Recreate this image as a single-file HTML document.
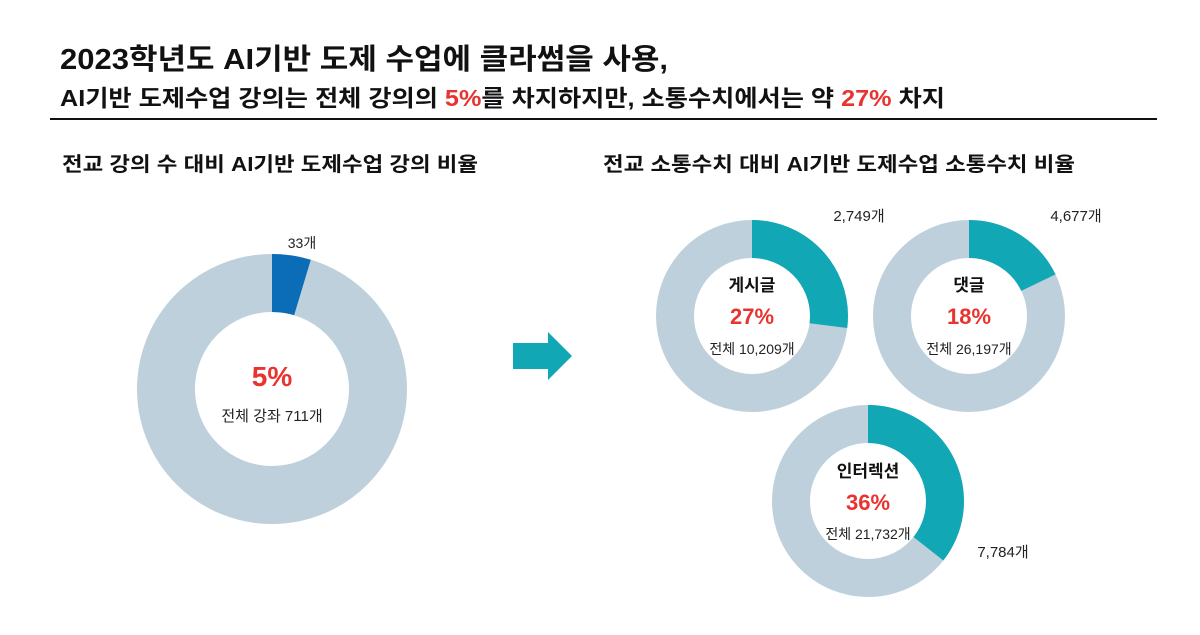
<!DOCTYPE html>
<html><head><meta charset="utf-8"><style>
body{margin:0;background:#fff;}
svg text{font-family:"Liberation Sans","Noto Sans CJK KR",sans-serif;}
</style></head><body>
<svg width="1200" height="630" viewBox="0 0 1200 630" xmlns="http://www.w3.org/2000/svg">
<rect width="1200" height="630" fill="#fff"/>
<text x="60" y="69" font-size="29" font-weight="bold" fill="#111" textLength="608" lengthAdjust="spacingAndGlyphs">2023학년도 AI기반 도제 수업에 클라썸을 사용,</text>
<text x="60" y="106" font-size="23" font-weight="bold" fill="#111" textLength="885" lengthAdjust="spacingAndGlyphs">AI기반 도제수업 강의는 전체 강의의 <tspan fill="#e8332f">5%</tspan>를 차지하지만, 소통수치에서는 약 <tspan fill="#e8332f">27%</tspan> 차지</text>
<rect x="50" y="118" width="1107" height="2" fill="#111"/>
<text x="62" y="171" font-size="20" font-weight="bold" fill="#111" textLength="416" lengthAdjust="spacingAndGlyphs">전교 강의 수 대비 AI기반 도제수업 강의 비율</text>
<text x="603" y="171" font-size="20" font-weight="bold" fill="#111" textLength="472" lengthAdjust="spacingAndGlyphs">전교 소통수치 대비 AI기반 도제수업 소통수치 비율</text>

<g transform="translate(272,389) rotate(-90)">
<circle r="106" fill="none" stroke="#bdd0dc" stroke-width="58"/>
<circle r="106" fill="none" stroke="#0b6db7" stroke-width="58" stroke-dasharray="30.9 700" />
</g>
<text x="302" y="248" font-size="14" text-anchor="middle" fill="#222">33개</text>
<text x="272" y="386" font-size="28" font-weight="bold" text-anchor="middle" fill="#e8332f">5%</text>
<text x="272" y="421" font-size="15" text-anchor="middle" fill="#222">전체 강좌 711개</text>

<polygon points="513,343 548,343 548,332 572,356 548,380 548,369 513,369" fill="#12a7b5"/>

<g transform="translate(752,316) rotate(-90)">
<circle r="77" fill="none" stroke="#bdd0dc" stroke-width="38"/>
<circle r="77" fill="none" stroke="#12a7b5" stroke-width="38" stroke-dasharray="130.6 600"/>
</g>
<text x="859" y="221" font-size="15" text-anchor="middle" fill="#222">2,749개</text>
<text x="752" y="291" font-size="17" font-weight="bold" text-anchor="middle" fill="#111">게시글</text>
<text x="752" y="324" font-size="22" font-weight="bold" text-anchor="middle" fill="#e8332f">27%</text>
<text x="752" y="354" font-size="14" text-anchor="middle" fill="#222">전체 10,209개</text>

<g transform="translate(969,316) rotate(-90)">
<circle r="77" fill="none" stroke="#bdd0dc" stroke-width="38"/>
<circle r="77" fill="none" stroke="#12a7b5" stroke-width="38" stroke-dasharray="86.4 600"/>
</g>
<text x="1076" y="221" font-size="15" text-anchor="middle" fill="#222">4,677개</text>
<text x="969" y="291" font-size="17" font-weight="bold" text-anchor="middle" fill="#111">댓글</text>
<text x="969" y="324" font-size="22" font-weight="bold" text-anchor="middle" fill="#e8332f">18%</text>
<text x="969" y="354" font-size="14" text-anchor="middle" fill="#222">전체 26,197개</text>

<g transform="translate(868,501) rotate(-90)">
<circle r="77" fill="none" stroke="#bdd0dc" stroke-width="38"/>
<circle r="77" fill="none" stroke="#12a7b5" stroke-width="38" stroke-dasharray="172.4 600"/>
</g>
<text x="1003" y="557" font-size="15" text-anchor="middle" fill="#222">7,784개</text>
<text x="868" y="477" font-size="17" font-weight="bold" text-anchor="middle" fill="#111">인터렉션</text>
<text x="868" y="510" font-size="22" font-weight="bold" text-anchor="middle" fill="#e8332f">36%</text>
<text x="868" y="539" font-size="14" text-anchor="middle" fill="#222">전체 21,732개</text>
</svg>
</body></html>
